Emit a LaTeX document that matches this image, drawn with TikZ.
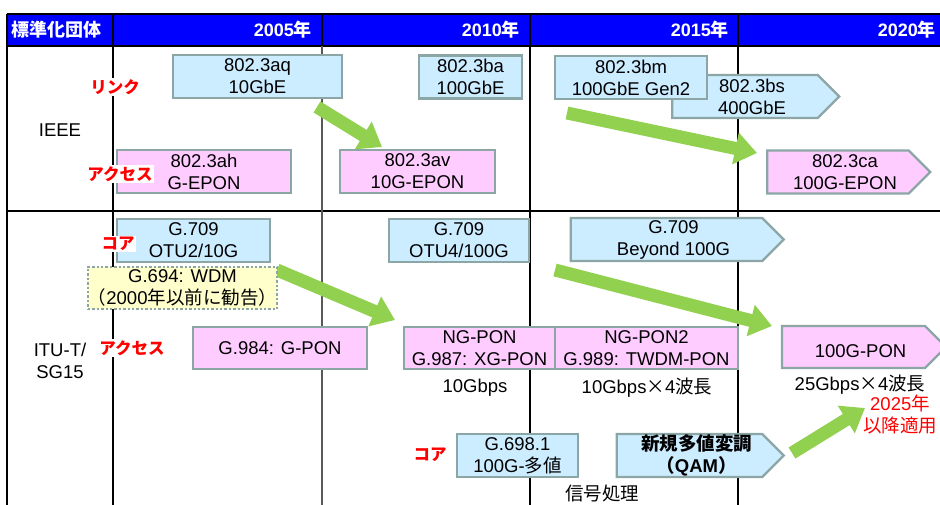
\documentclass[tikz,border=0pt]{standalone}
\usepackage{fontspec}
\setmainfont{Liberation Sans}
\newfontfamily\jp{Noto Sans CJK JP}
\usetikzlibrary{shapes.symbols,arrows.meta}

\definecolor{hdrblue}{RGB}{0,0,255}
\definecolor{boxblue}{RGB}{204,236,255}
\definecolor{boxpink}{RGB}{255,204,255}
\definecolor{boxyel}{RGB}{255,255,204}
\definecolor{boxline}{RGB}{140,166,166}
\definecolor{fatgreen}{RGB}{146,208,80}

\begin{document}
\begin{tikzpicture}[x=1pt, y=-1pt,
    every node/.style={font=\fontsize{18.5}{22}\selectfont, align=center, inner sep=0pt},
    std/.style={draw=boxline, line width=2.4pt, minimum height=43pt},
    link/.style={std, fill=boxblue},
    acc/.style={std, fill=boxpink},
    goon/.style={signal, signal to=east, signal pointer angle=90},
    goontext/.style={label={[xshift=7pt]center:{#1}}},
    redlab/.style={text=red, font=\fontsize{16.5}{20}\selectfont\jp\bfseries, fill=white, inner sep=1pt},
    hdr/.style={text=white, font=\fontsize{18}{22}\selectfont\bfseries},
    fat/.style={draw=fatgreen, line width=13pt, -{Triangle[length=22pt,width=31pt]}}]
  \useasboundingbox (0,0) rectangle (940,505);

  % table
  \fill[hdrblue] (7,14) rectangle (940,46);
  \draw[line width=1.2pt] (7,14) -- (940,14) (7,46) -- (940,46) (7,211) -- (940,211);
  \draw[line width=1.2pt] (7,14) -- (7,505);
  \foreach \x in {113,530,738}
    \draw[line width=1.2pt] (\x,14) -- (\x,505);
  \draw[line width=1.2pt, black!65] (322,46) -- (322,505);
  \draw[line width=1.2pt] (322,14) -- (322,46);

  \node[hdr, anchor=west] (org) at (11,30) {\jp 標準化団体};
  \node[hdr, anchor=east] (y05) at (312,30) {2005{\jp 年}};
  \node[hdr, anchor=east] (y10) at (520,30) {2010{\jp 年}};
  \node[hdr, anchor=east] (y15) at (729,30) {2015{\jp 年}};
  \node[hdr, anchor=east] (y20) at (936,30) {2020{\jp 年}};

  \node (ieee) at (60,130) {IEEE};
  \node (itut) at (60,361) {ITU-T/\\SG15};

  % green arrows
  \coordinate (a1s) at (317,107); \coordinate (a1e) at (382,147);
  \coordinate (a2s) at (567,113); \coordinate (a2e) at (757,153);
  \coordinate (a3s) at (277,270); \coordinate (a3e) at (395,320);
  \coordinate (a4s) at (555,270); \coordinate (a4e) at (772,326);
  \coordinate (a5s) at (792,453); \coordinate (a5e) at (865,408);
  \foreach \i in {1,...,5}
    \draw[fat] (a\i s) -- (a\i e);

  % IEEE
  \node[link, minimum width=169pt] (aq) at (257.5,76.5) {802.3aq\\10GbE};
  \node[link, minimum width=103pt] (ba) at (470.5,77) {802.3ba\\100GbE};
  \node[link, goon, minimum width=167pt, goontext={802.3bs\\400GbE}] (bs) at (745,96.5) {};
  \node[link, minimum width=152pt] (bm) at (631,77.5) {802.3bm\\100GbE Gen2};
  \node[acc, minimum width=174pt] (ah) at (204,171.5) {802.3ah\\G-EPON};
  \node[acc, minimum width=155pt] (av) at (417.5,171.5) {802.3av\\10G-EPON};
  \node[acc, goon, minimum width=163pt, goontext={802.3ca\\100G-EPON}] (ca) at (838,172) {};

  \node[redlab] (ieeelink) at (115,87) {リンク};
  \node[redlab] (ieeeacc) at (120,174) {アクセス};

  % ITU-T
  \node[link, minimum width=153pt] (otu2) at (193.5,240.5) {G.709\\OTU2/10G};
  \node[std, fill=boxyel, dotted, line width=1.8pt, minimum width=173pt, minimum height=42pt] (wdm) at (182.5,288)
    {G.694: WDM\\{\jp （}2000{\jp 年以前に勧告）}};
  \node[acc, minimum width=174pt, minimum height=42pt] (gpon) at (280,348) {G.984: G-PON};
  \node[link, minimum width=140pt] (otu4) at (459,240.5) {G.709\\OTU4/100G};
  \node[link, goon, minimum width=213pt, goontext={G.709\\Beyond 100G}] (b100) at (666.5,239.5) {};
  \node[acc, minimum width=151pt, minimum height=42pt] (xgpon) at (479.5,348) {NG-PON\\G.987: XG-PON};
  \node[acc, minimum width=183pt, minimum height=42pt] (twdm) at (646.5,348) {NG-PON2\\G.989: TWDM-PON};
  \node[acc, goon, minimum width=164pt, minimum height=42pt, goontext={\mbox{}\\100G-PON}] (pon100) at (853.5,347) {};
  \node[link, minimum width=121pt] (g698) at (517.5,455.5) {G.698.1\\100G-{\jp 多値}};
  \node[link, goon, minimum width=167pt,
    goontext={{\jp\bfseries 新規多値変調}\\{\jp\bfseries （}\textbf{QAM}{\jp\bfseries ）}}] (qam) at (689.5,455.5) {};

  \node (r10) at (475,388) {10Gbps};
  \node (r40) at (647,388) {10Gbps{\jp ×}4{\jp 波長}};
  \node (r100) at (860,385) {25Gbps{\jp ×}4{\jp 波長}};
  \node[text=red] (y2025) at (900,414) {2025{\jp 年}\\{\jp 以降適用}};
  \node (dsp) at (602,493) {\jp 信号処理};

  \node[redlab] (itucore) at (118,244) {コア};
  \node[redlab] (ituacc) at (132,348) {アクセス};
  \node[redlab] (itucore2) at (430,455) {コア};
\end{tikzpicture}
\end{document}
